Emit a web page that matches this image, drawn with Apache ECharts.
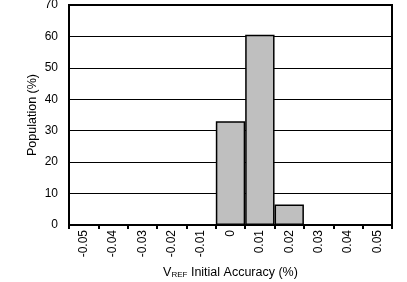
<!DOCTYPE html>
<html>
<head>
<meta charset="utf-8">
<script src="https://cdn.jsdelivr.net/npm/echarts@6/dist/echarts.min.js"></script>
<style>
  html, body { margin: 0; padding: 0; background: #fff; }
  #chart { width: 407px; height: 282px; }
</style>
</head>
<body>
<div id="chart"></div>
<script>
var categories = ['-0.05', '-0.04', '-0.03', '-0.02', '-0.01', '0', '0.01', '0.02', '0.03', '0.04', '0.05'];
var population = [0, 0, 0, 0, 0, 33, 60.5, 6.5, 0, 0, 0];
var yTicks = [0, 10, 20, 30, 40, 50, 60, 70];

var font = 'Liberation Sans, Arial, sans-serif';
var myChart = echarts.init(document.getElementById('chart'));
var option = {
  animation: false,
  grid: {
    left: 69,
    right: 15,
    top: 5,
    bottom: 57,
    outerBoundsMode: 'none',
    containLabel: false,
    show: true,
    borderColor: '#000',
    borderWidth: 2
  },
  xAxis: {
    type: 'category',
    data: categories,
    boundaryGap: true,
    axisLine: { lineStyle: { color: '#000', width: 2 } },
    axisTick: { show: true, length: 4, lineStyle: { color: '#000', width: 2 } },
    axisLabel: { rotate: 90, color: '#000', fontSize: 12, fontFamily: font, margin: 5 },
    name: '{v|V}{s|REF}{v| Initial Accuracy (%)}',
    nameLocation: 'middle',
    nameGap: 41,
    nameMoveOverlap: false,
    nameTextStyle: {
      rich: {
        v: { fontSize: 12.5, color: '#000', fontFamily: font },
        s: { fontSize: 8, color: '#000', fontFamily: font, verticalAlign: 'bottom', padding: [5, 0, 0, 0] }
      }
    }
  },
  yAxis: {
    type: 'value',
    min: yTicks[0],
    max: yTicks[yTicks.length - 1],
    interval: 10,
    axisLine: { show: true, lineStyle: { color: '#000', width: 2 } },
    axisTick: { show: false },
    axisLabel: { color: '#000', fontSize: 12, fontFamily: font, margin: 11 },
    splitLine: { lineStyle: { color: '#000', width: 1 } },
    name: 'Population (%)',
    nameLocation: 'middle',
    nameGap: 30,
    nameMoveOverlap: false,
    nameTextStyle: { color: '#000', fontSize: 12.5, fontFamily: font }
  },
  series: [{
    type: 'bar',
    data: population,
    barCategoryGap: '0%',
    itemStyle: { color: '#bfbfbf', borderColor: '#000', borderWidth: 1.5 }
  }]
};
myChart.setOption(option);
</script>
</body>
</html>
